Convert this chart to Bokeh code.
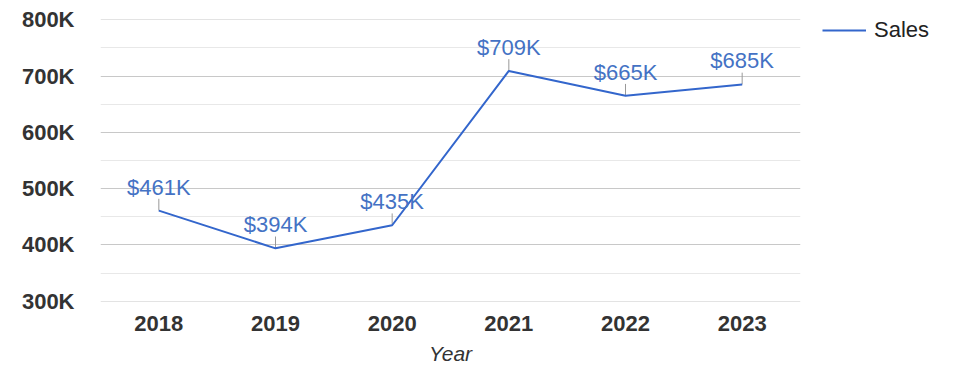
from bokeh.plotting import figure
from bokeh.models import (ColumnDataSource, FactorRange, Range1d, FixedTicker,
                          LabelSet, Legend, LegendItem)
from bokeh.core.properties import value
from bokeh.embed import file_html
from bokeh.resources import INLINE

years = ["2018", "2019", "2020", "2021", "2022", "2023"]
sales_k = [461, 394, 435, 709, 665, 685]          # thousands of $
y_ticks = [300, 400, 500, 600, 700, 800]
y_minor = [350, 450, 550, 650, 750]
y_tick_labels = ["300K", "400K", "500K", "600K", "700K", "800K"]
series_name = "Sales"
x_title = "Year"

LEAD = 21  # leader length in data units (thousands)
src = ColumnDataSource(dict(
    x=years,
    y=sales_k,
    top=[v + LEAD for v in sales_k],
    lab=["$%dK" % v for v in sales_k],
))

FONT = "Liberation Sans"
FS = "22px"

p = figure(
    x_range=FactorRange(*years, range_padding=0),
    y_range=Range1d(299.6, 800.4),
    frame_width=700, frame_height=282,
    min_border_left=100, min_border_right=175,
    min_border_top=19, min_border_bottom=77,
    output_backend="svg", toolbar_location=None,
)
p.outline_line_color = None
p.background_fill_color = "white"

# grids
p.xgrid.grid_line_color = None
p.ygrid.grid_line_color = "#c8c8c8"
p.ygrid.minor_grid_line_color = "#e8e8e8"
p.yaxis.ticker = FixedTicker(ticks=y_ticks, minor_ticks=y_minor)
p.yaxis.major_label_overrides = {t: l for t, l in zip(y_ticks, y_tick_labels)}

for ax in (p.xaxis, p.yaxis):
    ax.axis_line_color = None
    ax.major_tick_line_color = None
    ax.minor_tick_line_color = None
    ax.major_label_text_font = FONT
    ax.major_label_text_font_size = FS
    ax.major_label_text_font_style = "bold"
    ax.major_label_text_color = "#333333"

p.yaxis.major_label_standoff = 20
p.xaxis.major_label_standoff = 8
p.xaxis.axis_label = x_title
p.xaxis.axis_label_text_font = FONT
p.xaxis.axis_label_text_font_size = "21px"
p.xaxis.axis_label_text_font_style = "italic"
p.xaxis.axis_label_text_color = "#333333"
p.xaxis.axis_label_standoff = 8

# leaders
p.segment(x0="x", y0="y", x1="x", y1="top", source=src,
          line_color="#999999", line_width=1)

line = p.line(x="x", y="y", source=src, line_color="#3366cc", line_width=2)

labels = LabelSet(x="x", y="y", text="lab", source=src, y_offset=16,
                  text_align="center", text_baseline="alphabetic",
                  text_font=value(FONT), text_font_size=value(FS),
                  text_color="#4472c4")
p.add_layout(labels)

legend = Legend(items=[LegendItem(label=series_name, renderers=[line])],
                location=(22, 258), padding=0, margin=0, spacing=0,
                glyph_width=44, glyph_height=20, label_height=20,
                label_standoff=8, label_text_font=FONT,
                label_text_font_size=FS, label_text_color="#222222",
                border_line_color=None, background_fill_alpha=0)
p.add_layout(legend, "right")

open("out.html", "w").write(file_html(p, INLINE))
